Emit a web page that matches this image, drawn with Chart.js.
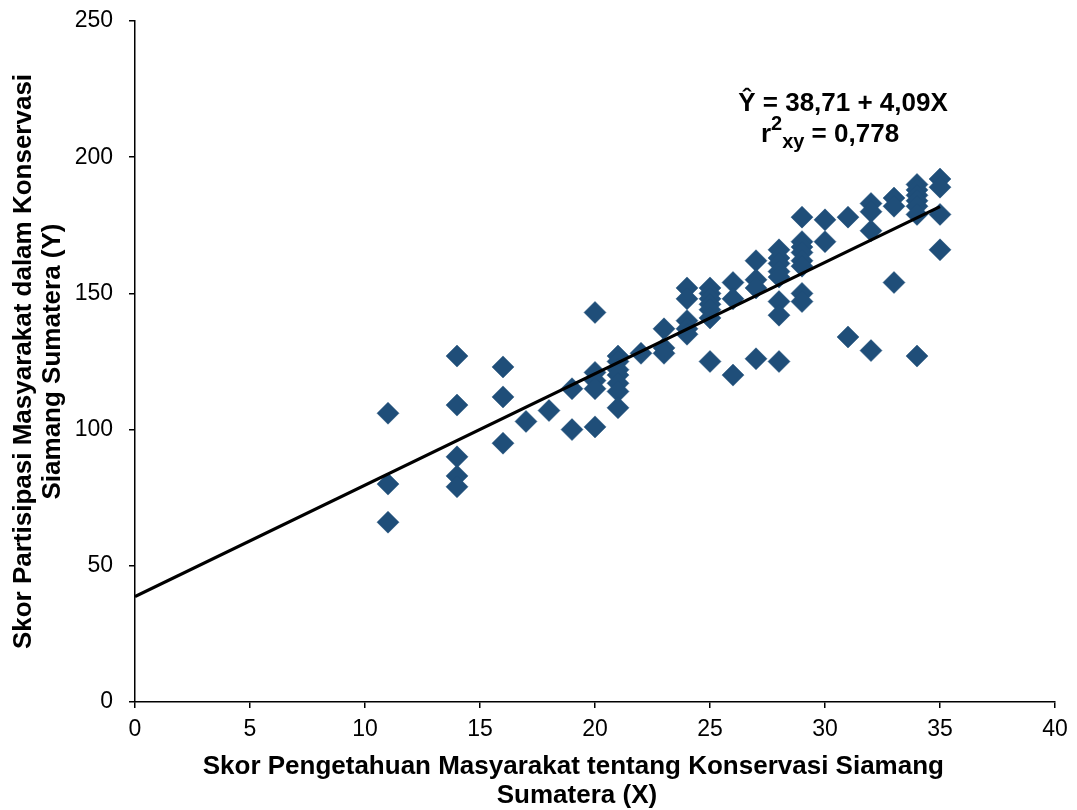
<!DOCTYPE html>
<html><head><meta charset="utf-8">
<script src="https://cdn.jsdelivr.net/npm/chart.js@4.4.1/dist/chart.umd.min.js"></script>
<style>html,body{margin:0;padding:0;background:#fff}#wrap{width:1077px;height:810px;position:relative}</style>
</head><body><div id="wrap"><canvas id="c"></canvas></div>
<script>
// Knowledge score (X) and participation score (Y) for each respondent
const scoreX = [
  11,11,11,
  14,14,14,14,14,
  16,16,16,
  17,
  18,
  19,19,
  20,20,20,20,20,
  21,21,21,21,21,21,21,
  22,
  23,23,23,
  24,24,24,24,24,
  25,25,25,25,25,25,25,
  26,26,26,
  27,27,27,27,
  28,28,28,28,28,28,28,28,
  29,29,29,29,29,29,29,29,
  30,30,
  31,31,
  32,32,32,32,
  33,33,33,
  34,34,34,34,34,34,34,
  35,35,35,35
];
const scoreY = [
  106,80,66,
  127,109,90,83,79,
  123,112,95,
  103,
  107,
  115,100,
  143,121,118,115,101,
  127,125,122,120,117,114,108,
  128,
  137,130,128,
  152,148,140,137,135,
  152,150,148,146,144,141,125,
  154,148,120,
  162,155,152,126,
  166,163,161,158,156,147,142,125,
  178,169,167,165,162,160,150,147,
  177,169,
  178,134,
  183,180,173,129,
  185,182,154,
  190,188,186,184,182,179,127,
  192,189,179,166
];
// Regression line end points (Ŷ = 38,71 + 4,09X)
const trendX = [0, 35];
const trendY = [38.71, 181.86];

const xTicks = [0, 5, 10, 15, 20, 25, 30, 35, 40];
const yTicks = [0, 50, 100, 150, 200, 250];

const xTitle = ['Skor Pengetahuan Masyarakat tentang Konservasi Siamang      ', 'Sumatera (X)     '];
const yTitle = ['Skor Partisipasi Masyarakat dalam Konservasi', 'Siamang Sumatera (Y)'];
const eqLine1 = 'Ŷ = 38,71 + 4,09X';
const eqLine2 = ['r', '2', 'xy', ' = 0,778'];

const FONT = '"Liberation Sans", Arial, sans-serif';
const pointColor = '#1F4E79';

const eqPlugin = {
  id: 'equation',
  afterDraw(chart) {
    const ctx = chart.ctx;
    ctx.save();
    ctx.fillStyle = '#000';
    ctx.textBaseline = 'alphabetic';
    const big = 'bold 26px ' + FONT, small = 'bold 20px ' + FONT;
    ctx.font = big;
    ctx.textAlign = 'center';
    ctx.fillText(eqLine1, 843, 111);
    ctx.textAlign = 'left';
    ctx.font = big;
    const w0 = ctx.measureText(eqLine2[0]).width;
    const w3 = ctx.measureText(eqLine2[3]).width;
    ctx.font = small;
    const w1 = ctx.measureText(eqLine2[1]).width;
    const w2 = ctx.measureText(eqLine2[2]).width;
    let x = 830 - (w0 + w1 + w2 + w3) / 2;
    const base = 142;
    ctx.font = big; ctx.fillText(eqLine2[0], x, base); x += w0;
    ctx.font = small; ctx.fillText(eqLine2[1], x, base - 12); x += w1;
    ctx.fillText(eqLine2[2], x, base + 6); x += w2;
    ctx.font = big; ctx.fillText(eqLine2[3], x, base);
    ctx.restore();
  }
};

const points = scoreX.map((x, i) => ({x: x, y: scoreY[i]}));
const trend = trendX.map((x, i) => ({x: x, y: trendY[i]}));

new Chart(document.getElementById('c'), {
  type: 'scatter',
  data: {
    datasets: [
      {
        label: 'Regresi',
        data: trend,
        showLine: true,
        borderColor: '#000',
        borderWidth: 3.2,
        pointRadius: 0,
        fill: false
      },
      {
        label: 'Responden',
        data: points,
        pointStyle: 'rectRot',
        pointRadius: 11,
        pointHoverRadius: 11,
        backgroundColor: pointColor,
        borderColor: pointColor,
        borderWidth: 0.5
      }
    ]
  },
  options: {
    responsive: true,
    maintainAspectRatio: false,
    devicePixelRatio: 1,
    animation: false,
    layout: {padding: {top: 21, right: 22, bottom: 0, left: 0}},
    plugins: {legend: {display: false}, tooltip: {enabled: false}},
    scales: {
      x: {
        type: 'linear',
        min: 0, max: 40,
        afterBuildTicks: s => { s.ticks = xTicks.map(v => ({value: v})); },
        afterFit: s => { s.height = 108; s.paddingLeft = 0; s.paddingRight = 0; },
        grid: {display: true, drawOnChartArea: false, drawTicks: true, tickLength: 6, color: '#000', lineWidth: 1.5},
        border: {display: true, color: '#000', width: 1.5},
        ticks: {color: '#000', padding: 8, font: {family: FONT, size: 23}, maxRotation: 0, autoSkip: false},
        title: {display: true, text: xTitle, color: '#000', padding: {top: 0, bottom: 0}, font: {family: FONT, size: 26, weight: 'bold', lineHeight: 1.1}}
      },
      y: {
        type: 'linear',
        min: 0, max: 250,
        afterBuildTicks: s => { s.ticks = yTicks.map(v => ({value: v})); },
        afterFit: s => { s.width = 135; s.paddingTop = 0; s.paddingBottom = 0; },
        grid: {display: true, drawOnChartArea: false, drawTicks: true, tickLength: 6, color: '#000', lineWidth: 1.5},
        border: {display: true, color: '#000', width: 1.5},
        ticks: {color: '#000', padding: 16, font: {family: FONT, size: 23}, autoSkip: false},
        title: {display: true, text: yTitle, color: '#000', padding: {top: 10, bottom: 0}, font: {family: FONT, size: 26, weight: 'bold', lineHeight: 1.1}}
      }
    }
  },
  plugins: [eqPlugin]
});
</script>
</body></html>
